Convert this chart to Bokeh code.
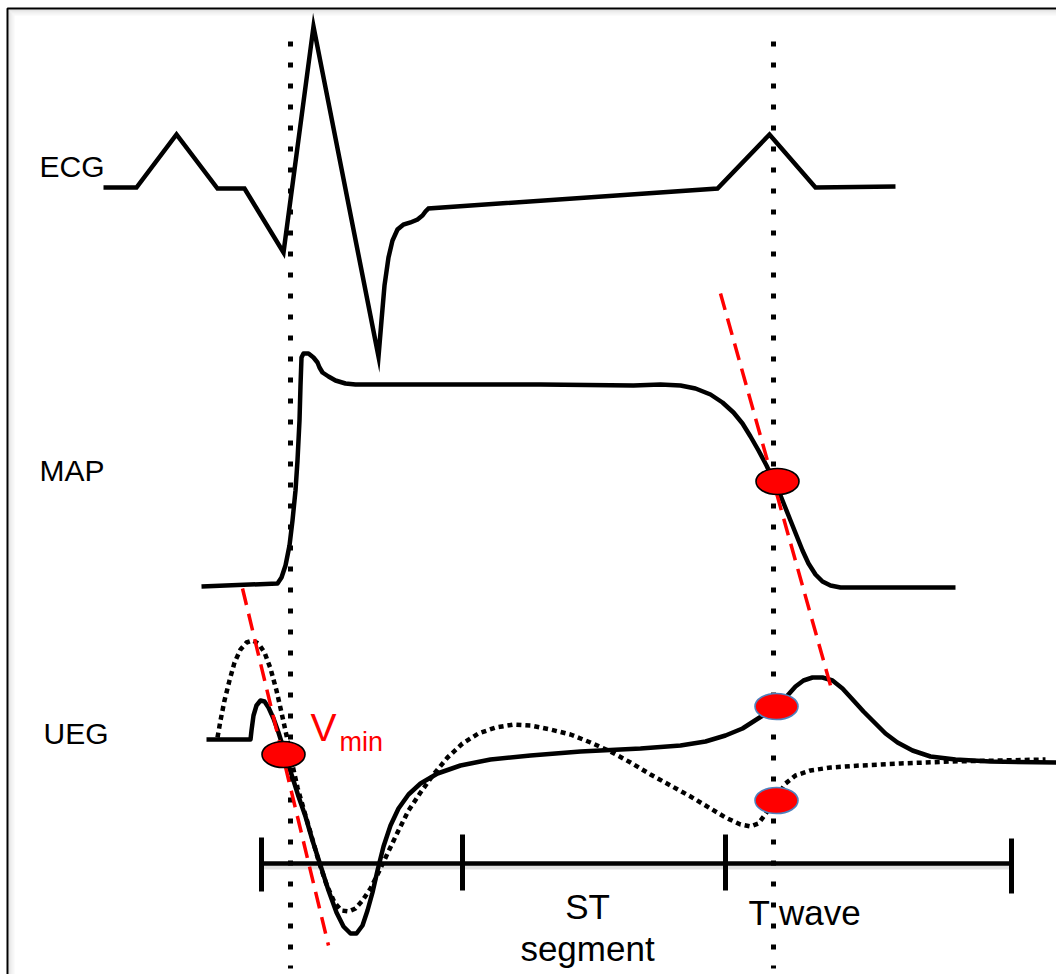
from bokeh.plotting import figure
from bokeh.models import Range1d
from bokeh.embed import file_html
from bokeh.resources import INLINE
from bokeh.core.properties import value

# ---- data (diagram units: x = time position, y = screen level, downward) ----
ecg_x = [103, 136, 176, 217, 244, 283, 313, 378, 381, 384, 388, 392, 397, 403, 410,
         417, 422, 425, 428, 717, 769, 815, 895]
ecg_y = [187, 187, 134, 188, 188, 252, 26, 356, 320, 285, 257, 240, 229, 224, 222,
         219, 215, 211, 208, 188, 134, 187, 186]

map_x = [201, 277, 281, 285, 289, 292, 295, 297, 299, 300, 301, 303, 308, 313, 317,
         319, 322, 328, 335, 345, 355, 540, 633, 660, 680, 695, 710, 722, 733, 742,
         750, 758, 766, 772, 778, 784, 790, 796, 802, 808, 815, 822, 830, 840, 955]
map_y = [586, 583, 577, 565, 545, 520, 490, 460, 420, 385, 357, 353, 353, 357, 362,
         367, 372, 376, 380, 383, 384, 384, 385, 384, 385, 388, 394, 402, 412, 423,
         436, 450, 465, 478, 490, 505, 520, 535, 550, 563, 574, 581, 585, 587, 587]

ueg_x = [206, 250, 251, 253, 256, 260, 264, 268, 273, 278, 283, 288, 293, 298, 305,
         312, 320, 328, 336, 343, 350, 356, 362, 367, 372, 377, 383, 390, 398, 408,
         420, 437, 460, 490, 530, 580, 640, 680, 705, 725, 742, 756, 767, 777, 787,
         795, 803, 812, 822, 832, 842, 853, 863, 873, 885, 897, 912, 930, 955, 990, 1056]
ueg_y = [739, 739, 730, 715, 705, 700, 701, 707, 718, 732, 748, 765, 780, 796, 816,
         840, 865, 890, 912, 926, 933, 933, 925, 910, 892, 870, 846, 825, 808, 794,
         783, 773, 765, 759, 755, 751, 748, 745, 741, 735, 728, 719, 712, 705, 695,
         686, 680, 677, 677, 680, 688, 700, 711, 721, 733, 742, 750, 756, 759, 761, 762]

uegd_x = [217, 220, 224, 229, 234, 240, 246, 252, 258, 264, 270, 276, 281, 286, 291,
          297, 303, 310, 318, 326, 334, 341, 348, 355, 362, 370, 378, 387, 397, 408,
          420, 433, 447, 462, 478, 495, 513, 530, 550, 570, 590, 610, 630, 650, 670,
          690, 710, 725, 740, 750, 758, 764, 770, 777, 785, 795, 810, 830, 860, 900,
          950, 1000, 1045]
uegd_y = [737, 720, 700, 680, 662, 649, 642, 640, 643, 652, 668, 690, 712, 735, 760,
          787, 808, 832, 860, 884, 902, 910, 911, 908, 900, 888, 872, 853, 832, 810,
          792, 774, 757, 743, 733, 727, 724, 725, 729, 734, 742, 751, 762, 774, 785,
          796, 808, 817, 824, 826, 823, 815, 806, 795, 783, 775, 770, 767, 765, 763,
          761, 760, 759]

# activation / repolarisation markers
marker_x = [773, 290]
tangent_x0 = [720, 242]
tangent_y0 = [293, 588]
tangent_x1 = [830, 328]
tangent_y1 = [685, 945]

dot_x = [283, 777, 776, 776]
dot_y = [754, 481, 706, 800]
dot_edge = ["black", "black", "#4f81bd", "#4f81bd"]

seg_ticks = [261, 462, 725, 1011]
trace_labels = ["ECG", "MAP", "UEG"]

W, H = 1056, 974
p = figure(width=W, height=H, x_range=Range1d(0, W), y_range=Range1d(H, 0),
           output_backend="svg", toolbar_location=None,
           x_axis_location=None, y_axis_location=None, min_border=0)
p.grid.visible = False
p.outline_line_color = None
p.background_fill_color = "white"
p.border_fill_color = "white"

# frame with soft shadow
for off, a in [(2, 0.10), (4, 0.06), (6, 0.03)]:
    p.line([7 + off, 7 + off, W + 5], [H + 5, 8 + off, 8 + off], line_color="black",
           line_alpha=a, line_width=2)
p.line([7, 7, W + 5], [H + 5, 8, 8], line_color="black", line_width=2)

# vertical dotted markers
for mx in marker_x:
    p.line([mx, mx], [41, 968], line_color="black", line_width=5,
           line_dash="5 16", line_cap="butt")

# timeline with shadow
p.line([seg_ticks[0], seg_ticks[-1]], [866, 866], line_color="black",
       line_alpha=0.12, line_width=6)
p.line([seg_ticks[0], seg_ticks[-1]], [863, 863], line_color="black", line_width=4.5)
p.segment(x0=seg_ticks, y0=[837, 834, 834, 838], x1=seg_ticks, y1=[891, 890, 890, 893],
          line_color="black", line_width=5)

# traces
p.line(ecg_x, ecg_y, line_color="black", line_width=4.5, line_join="miter")
p.line(map_x, map_y, line_color="black", line_width=4.5, line_join="round")
p.line(uegd_x, uegd_y, line_color="black", line_width=4.5, line_dash="5 4",
       line_cap="butt", line_join="round")
p.line(ueg_x, ueg_y, line_color="black", line_width=4.5, line_join="round")

# tangents
p.segment(x0=tangent_x0, y0=tangent_y0, x1=tangent_x1, y1=tangent_y1,
          line_color="#ff0000", line_width=3.5, line_dash="17 9")

# red dots
p.ellipse(x=dot_x, y=dot_y, width=43, height=26, fill_color="#ff0000",
          line_color=dot_edge, line_width=1.6)

font = value("Liberation Sans")
p.text(x=[39, 39, 43], y=[166, 470, 733], text=trace_labels, text_font=font,
       text_font_size="30px", text_color="black", text_baseline="alphabetic",
       text_align="left")
p.text(x=[310], y=[727], text=["V"], text_font=font, text_font_size="39px",
       text_color="#ff0000", text_baseline="alphabetic")
p.text(x=[339], y=[741], text=["min"], text_font=font, text_font_size="27px",
       text_color="#ff0000", text_baseline="alphabetic")
p.text(x=[587, 587], y=[906, 948], text=["ST", "segment"], text_font=font,
       text_font_size="35px", text_color="black", text_baseline="alphabetic",
       text_align="center")
p.text(x=[748], y=[912], text=["T wave"], text_font=font, text_font_size="35px",
       text_color="black", text_baseline="alphabetic", text_align="left")

open("out.html", "w").write(file_html(p, INLINE))
